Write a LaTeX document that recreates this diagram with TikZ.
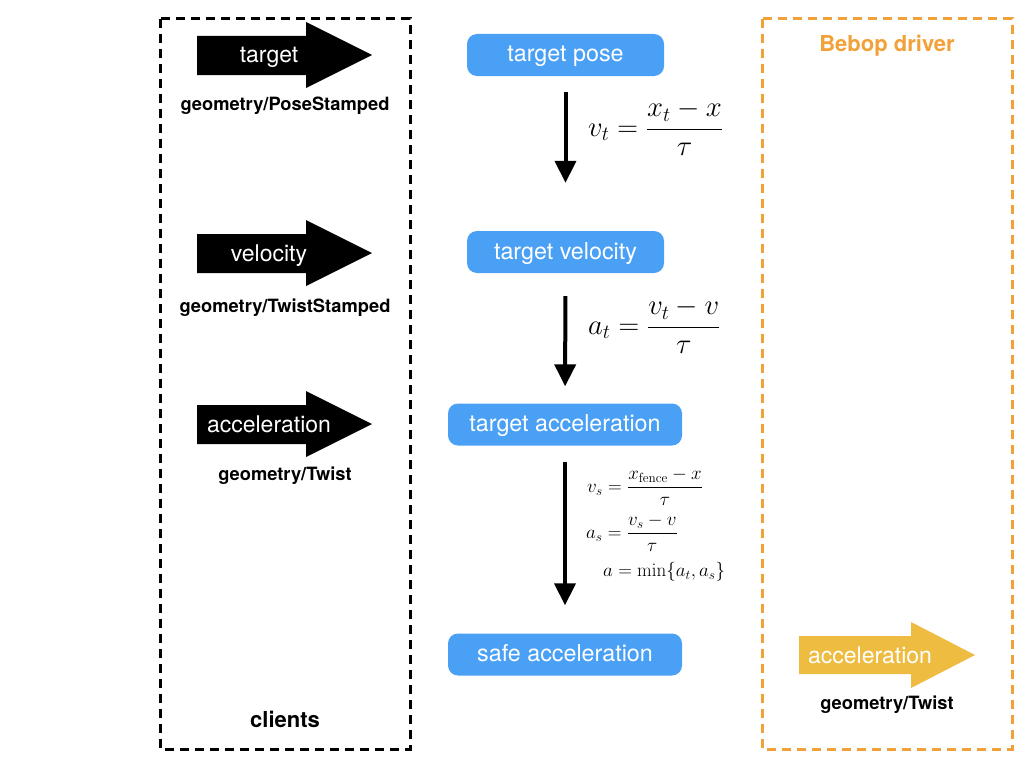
\RequirePackage{fix-cm}
\documentclass[tikz,border=0pt]{standalone}
\usepackage{amsmath}
\usepackage[no-math]{fontspec}
\setmainfont{TeX Gyre Heros}
\usetikzlibrary{arrows.meta}
\definecolor{nodeblue}{RGB}{74,160,245}
\definecolor{bebop}{RGB}{242,160,56}
\definecolor{outyellow}{RGB}{238,188,64}
\tikzset{
  frame/.style={line width=3pt, dash pattern=on 9pt off 6pt},
  stage/.style={fill=nodeblue, rounded corners=10pt, text=white, font=\fontsize{23.3}{27}\selectfont, minimum height=42pt, inner sep=0pt, text height=16pt, text depth=2pt},
  arrowtext/.style={text=white, font=\fontsize{23}{27}\selectfont, inner sep=0pt, text height=16pt, text depth=0pt},
  msg/.style={font=\bfseries\fontsize{18.3}{22}\selectfont},
  flow/.style={line width=4pt, -{Triangle[length=22pt,width=21pt]}},
  eqbig/.style={font=\fontsize{28.7}{34}\selectfont, inner sep=0pt, anchor=west},
  eqsmall/.style={font=\fontsize{19}{23}\selectfont, inner sep=0pt, anchor=west},
}
\begin{document}
\begin{tikzpicture}[x=1pt,y=-1pt]
\useasboundingbox (0,0) rectangle (1024,768);
% frames
\draw[frame, black] (160,19) rectangle (410,749);
\draw[frame, bebop] (762,19) rectangle (1012,749);
\node[font=\bfseries\fontsize{22}{26}\selectfont, text=bebop] (bebop) at (887,46) {Bebop driver};
\node[msg, font=\bfseries\fontsize{22}{26}\selectfont] (clients) at (285,719) {clients};

% input block arrows
\fill[black] (197,36) -- (306,36) -- (306,22) -- (372,55) -- (306,88) -- (306,75) -- (197,75) -- cycle;
\node[arrowtext] (inT) at (269,55) {target};
\node[msg] (inTm) at (285,106) {geometry/PoseStamped};

\fill[black] (197,234) -- (306,234) -- (306,220) -- (372,253) -- (306,286) -- (306,273) -- (197,273) -- cycle;
\node[arrowtext] (inV) at (269,253) {velocity};
\node[msg] (inVm) at (285,308) {geometry/TwistStamped};

\fill[black] (197,405) -- (306,405) -- (306,391) -- (372,424) -- (306,457) -- (306,444) -- (197,444) -- cycle;
\node[arrowtext] (inA) at (269,424) {acceleration};
\node[msg] (inAm) at (285,476) {geometry/Twist};

% output block arrow
\fill[outyellow] (799,636) -- (911,636) -- (911,622) -- (975,655) -- (911,688) -- (911,674) -- (799,674) -- cycle;
\node[arrowtext] (outA) at (870,655) {acceleration};
\node[msg] (outAm) at (887,705) {geometry/Twist};

% stages
\node[stage, minimum width=197pt] (tp) at (565.5,55) {target pose};
\node[stage, minimum width=197pt] (tv) at (565.5,252) {target velocity};
\node[stage, minimum width=234pt] (ta) at (565,424.5) {target acceleration};
\node[stage, minimum width=234pt] (sa) at (565,654.5) {safe acceleration};

% flows
\draw[flow, shorten <=16pt, shorten >=48pt] (tp) -- (tv);
\draw[flow, shorten <=23pt, shorten >=17pt] (tv) -- (ta);
\draw[flow, shorten <=16pt, shorten >=28pt] (ta) -- (sa);

% equations
\node[eqbig] (e1) at (588,128) {$v_t = \dfrac{x_t - x}{\tau}$};
\node[eqbig] (e2) at (588,326) {$a_t = \dfrac{v_t - v}{\tau}$};
\node[eqsmall] (e3) at (587,487) {$v_s = \dfrac{x_{\mathrm{fence}} - x}{\tau}$};
\node[eqsmall] (e4) at (586,533) {$a_s = \dfrac{v_s - v}{\tau}$};
\node[eqsmall] (e5) at (603,572) {$a = \min\{a_t, a_s\}$};
\end{tikzpicture}
\end{document}
